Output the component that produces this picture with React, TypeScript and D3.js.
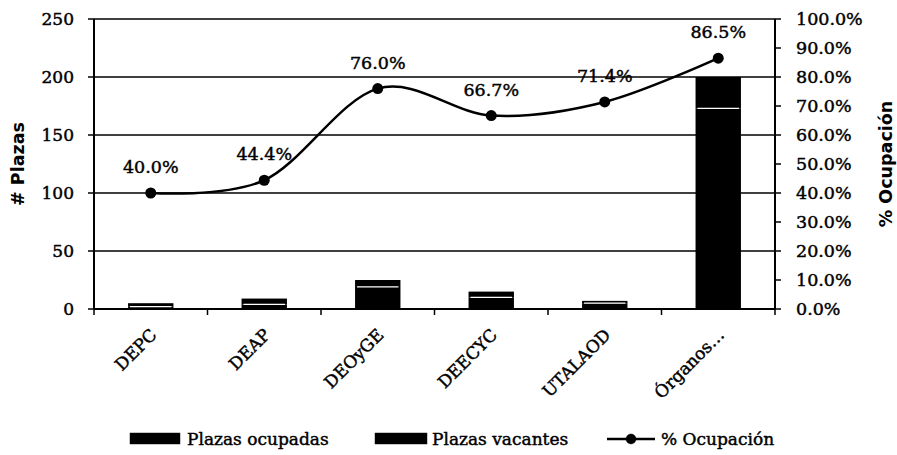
import * as d3 from "d3";

const categories = ["DEPC", "DEAP", "DEOyGE", "DEECYC", "UTALAOD", "Órganos…"];
const ocupadas = [2, 4, 19, 10, 5, 173];
const vacantes = [3, 5, 6, 5, 2, 27];
const ocupacion = [40.0, 44.4, 76.0, 66.7, 71.4, 86.5];
const leftTicks = [0, 50, 100, 150, 200, 250];
const rightTicks = [0, 10, 20, 30, 40, 50, 60, 70, 80, 90, 100];

const W = 897;
const H = 455;
const left = 94;
const right = 775;
const top = 19;
const bottom = 309;
const serif = "DejaVu Serif";
// scanned original looks heavier than a regular weight
const heavy = { stroke: "#000", strokeWidth: 0.45 };

export default function App() {
  const x = d3.scaleBand<string>().domain(categories).range([left, right]).padding(0);
  const y = d3.scaleLinear().domain([0, 250]).range([bottom, top]);
  const yr = d3.scaleLinear().domain([0, 100]).range([bottom, top]);
  const bw = x.bandwidth() * 0.4;
  const cx = (c: string) => (x(c) ?? 0) + x.bandwidth() / 2;

  const pts = categories.map((c, i) => [cx(c), yr(ocupacion[i])] as [number, number]);
  const line = d3.line().curve(d3.curveCardinal.tension(0))(pts) ?? "";

  return (
    <svg width={W} height={H} style={{ position: "absolute", left: 0, top: 0, background: "#fff" }}>
      {/* gridlines */}
      {leftTicks.slice(1).map((t) => (
        <line key={t} x1={left} x2={right} y1={y(t)} y2={y(t)} stroke="#000" strokeWidth={1.5} />
      ))}

      {/* bars */}
      {categories.map((c, i) => {
        const x0 = cx(c) - bw / 2;
        const yo = y(ocupadas[i]);
        const yv = y(ocupadas[i] + vacantes[i]);
        return (
          <g key={c}>
            <rect x={x0} y={yo} width={bw} height={bottom - yo} fill="#000" />
            <rect x={x0} y={yv} width={bw} height={yo - yv} fill="#000" />
            <line x1={x0 + 2} x2={x0 + bw - 2} y1={yo} y2={yo} stroke="#fff" strokeWidth={1.2} />
          </g>
        );
      })}

      {/* axes */}
      <line x1={left} x2={left} y1={top} y2={bottom} stroke="#000" strokeWidth={2} />
      <line x1={right} x2={right} y1={top} y2={bottom} stroke="#000" strokeWidth={2} />
      <line x1={left} x2={right} y1={bottom} y2={bottom} stroke="#000" strokeWidth={2} />
      {leftTicks.map((t) => (
        <g key={t}>
          <line x1={left - 6} x2={left} y1={y(t)} y2={y(t)} stroke="#000" strokeWidth={1.5} />
          <text x={74} y={y(t)} dy="0.35em" textAnchor="end" fontFamily={serif} fontSize={17} {...heavy}>
            {t}
          </text>
        </g>
      ))}
      {rightTicks.map((t) => (
        <g key={t}>
          <line x1={right} x2={right + 6} y1={yr(t)} y2={yr(t)} stroke="#000" strokeWidth={1.5} />
          <text x={796} y={yr(t)} dy="0.35em" fontFamily={serif} fontSize={17.5} {...heavy}>
            {t.toFixed(1) + "%"}
          </text>
        </g>
      ))}
      {d3.range(categories.length + 1).map((i) => {
        const xx = left + i * x.bandwidth();
        return <line key={i} x1={xx} x2={xx} y1={bottom} y2={bottom + 6} stroke="#000" strokeWidth={1.5} />;
      })}
      {categories.map((c) => (
        <text
          key={c}
          transform={`translate(${cx(c) + 7},${bottom + 27}) rotate(-45)`}
          textAnchor="end"
          fontFamily={serif}
          fontSize={17}
          {...heavy}
        >
          {c}
        </text>
      ))}

      {/* axis titles */}
      <text
        transform={`translate(24,${(top + bottom) / 2}) rotate(-90)`}
        textAnchor="middle"
        fontFamily="DejaVu Sans"
        fontWeight="bold"
        fontSize={17.5}
      >
        # Plazas
      </text>
      <text
        transform={`translate(892,${(top + bottom) / 2}) rotate(-90)`}
        textAnchor="middle"
        fontFamily="DejaVu Sans"
        fontWeight="bold"
        fontSize={17.5}
      >
        % Ocupación
      </text>

      {/* line series */}
      <path d={line} fill="none" stroke="#000" strokeWidth={2.5} />
      {pts.map((p, i) => (
        <g key={i}>
          <circle cx={p[0]} cy={p[1]} r={5.5} fill="#000" />
          <text x={p[0]} y={p[1] - 20} textAnchor="middle" fontFamily={serif} fontSize={17.5} {...heavy}>
            {ocupacion[i].toFixed(1) + "%"}
          </text>
        </g>
      ))}

      {/* legend */}
      <g fontFamily={serif} fontSize={17} {...heavy}>
        <rect x={130} y={433} width={50} height={11} fill="#000" />
        <text x={187} y={439} dy="0.35em">Plazas ocupadas</text>
        <rect x={375} y={433} width={52} height={11} fill="#000" />
        <text x={432} y={439} dy="0.35em">Plazas vacantes</text>
        <line x1={607} x2={655} y1={439} y2={439} stroke="#000" strokeWidth={2.5} />
        <circle cx={631} cy={439} r={5} fill="#000" />
        <text x={661} y={439} dy="0.35em">% Ocupación</text>
      </g>
    </svg>
  );
}
